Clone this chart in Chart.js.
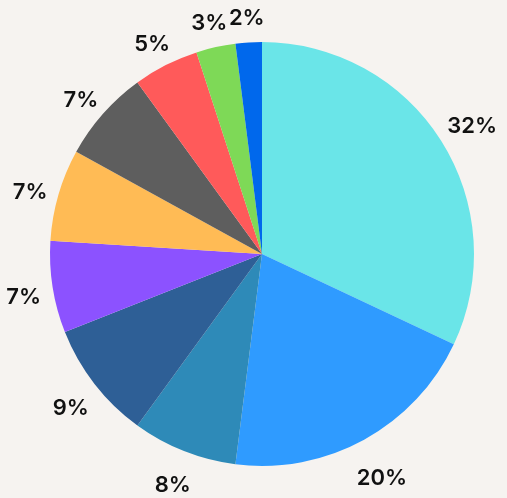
<!DOCTYPE html>
<html>
<head>
<meta charset="utf-8">
<script src="https://cdn.jsdelivr.net/npm/chart.js@4.4.1/dist/chart.umd.min.js"></script>
<style>
html,body{margin:0;padding:0;background:#f6f3f0;}
#wrap{width:507px;height:498px;position:relative;}
</style>
</head>
<body>
<div id="wrap"><canvas id="c" width="507" height="498"></canvas></div>
<script>
const categories = ["A","B","C","D","E","F","G","H","I","J"];
const values = [32, 20, 8, 9, 7, 7, 7, 5, 3, 2];
const labels = ["32%","20%","8%","9%","7%","7%","7%","5%","3%","2%"];
const colors = ["#6ae5e8","#2f9bff","#2e8ab8","#2e5f96","#8c52ff","#ffbb55","#5e5e5e","#ff5a5a","#7ed957","#0068ec"];

const bgPlugin = {
  id: 'bg',
  beforeDraw(chart){
    const ctx = chart.ctx;
    ctx.save();
    ctx.fillStyle = '#f6f3f0';
    ctx.fillRect(0,0,chart.width,chart.height);
    ctx.restore();
  }
};

const labelPlugin = {
  id: 'outLabels',
  afterDatasetsDraw(chart){
    const ctx = chart.ctx;
    const meta = chart.getDatasetMeta(0);
    ctx.save();
    ctx.fillStyle = '#111111';
    ctx.font = '600 22px Inter, "DejaVu Sans", sans-serif';
    ctx.textAlign = 'center';
    ctx.textBaseline = 'middle';
    meta.data.forEach((arc, i) => {
      const p = arc.getProps(['x','y','startAngle','endAngle','outerRadius'], true);
      const mid = (p.startAngle + p.endAngle) / 2;
      const w = ctx.measureText(labels[i]).width;
      const r = p.outerRadius + 12 + w / 2;
      ctx.fillText(labels[i], p.x + Math.cos(mid) * r, p.y + Math.sin(mid) * r + 6);
    });
    ctx.restore();
  }
};

new Chart(document.getElementById('c'), {
  type: 'pie',
  data: {
    labels: categories,
    datasets: [{
      data: values,
      backgroundColor: colors,
      borderWidth: 0
    }]
  },
  options: {
    responsive: false,
    animation: false,
    layout: { padding: { left: 50, right: 33, top: 42, bottom: 32 } },
    plugins: {
      legend: { display: false },
      tooltip: { enabled: false }
    }
  },
  plugins: [bgPlugin, labelPlugin]
});
</script>
</body>
</html>
